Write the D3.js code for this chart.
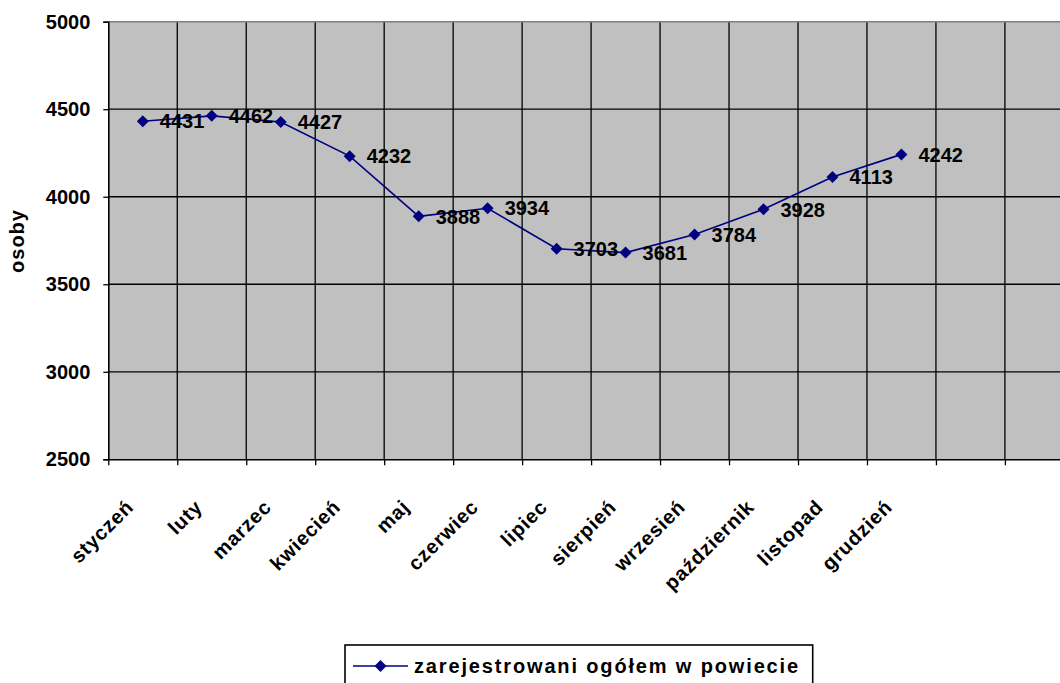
<!DOCTYPE html>
<html>
<head>
<meta charset="utf-8">
<script src="https://cdn.jsdelivr.net/npm/d3@7"></script>
<style>
  html, body { margin: 0; padding: 0; background: #ffffff; }
  svg { display: block; }
  text { font-family: "Liberation Sans", Arial, sans-serif; font-weight: bold; fill: #000; }
</style>
</head>
<body>
<script>
// data
var categories = ["styczeń", "luty", "marzec", "kwiecień", "maj", "czerwiec",
  "lipiec", "sierpień", "wrzesień", "październik", "listopad", "grudzień"];
var values = [4431, 4462, 4427, 4232, 3888, 3934, 3703, 3681, 3784, 3928, 4113, 4242];
var yTicks = [2500, 3000, 3500, 4000, 4500, 5000];
var emptySlots = 2; // the category axis has two empty slots on the right
var seriesName = "zarejestrowani ogółem w powiecie";
var yTitle = "osoby";

var svgWidth = 1060;
var svgHeight = 683;

// plot area (runs past the right edge of the picture, like the original)
var plotLeft = 108.3, plotTop = 21.7, plotBottom = 459.3;
var bandStep = 68.97;
var slotCount = categories.length + emptySlots;
var plotRight = plotLeft + slotCount * bandStep;

var svg = d3.select("body").append("svg")
  .attr("width", svgWidth)
  .attr("height", svgHeight);

var xScale = d3.scaleBand()
  .domain(d3.range(slotCount))
  .range([plotLeft, plotRight])
  .padding(0);

var yScale = d3.scaleLinear()
  .domain([2500, 5000])
  .range([plotBottom, plotTop]);

// background
svg.append("rect")
  .attr("x", plotLeft).attr("y", plotTop)
  .attr("width", plotRight - plotLeft).attr("height", plotBottom - plotTop)
  .attr("fill", "#c0c0c0");

// horizontal gridlines
svg.append("g").selectAll("line")
  .data(yTicks.filter(function(d) { return d > 2500 && d < 5000; }))
  .enter().append("line")
  .attr("x1", plotLeft).attr("x2", plotRight)
  .attr("y1", function(d) { return yScale(d); })
  .attr("y2", function(d) { return yScale(d); })
  .attr("stroke", "#000").attr("stroke-width", 1.3);

// vertical gridlines at category boundaries
svg.append("g").selectAll("line")
  .data(d3.range(1, slotCount))
  .enter().append("line")
  .attr("x1", function(d) { return xScale(d); })
  .attr("x2", function(d) { return xScale(d); })
  .attr("y1", plotTop).attr("y2", plotBottom)
  .attr("stroke", "#000").attr("stroke-width", 1.3);

// top border in gray
svg.append("line")
  .attr("x1", plotLeft).attr("x2", plotRight)
  .attr("y1", plotTop).attr("y2", plotTop)
  .attr("stroke", "#808080").attr("stroke-width", 1.6);

// y axis
var leftAxis = d3.axisLeft(yScale)
  .tickValues(yTicks)
  .tickSize(5)
  .tickPadding(13)
  .tickFormat(d3.format("d"));

var yAxisG = svg.append("g")
  .attr("transform", "translate(" + plotLeft + ",0)")
  .call(leftAxis);
yAxisG.select(".domain").attr("stroke", "#000").attr("stroke-width", 1.6);
yAxisG.selectAll(".tick line").attr("stroke", "#000").attr("stroke-width", 1.3);
yAxisG.selectAll("text")
  .style("font-size", "20px")
  .style("font-family", "'Liberation Sans', Arial, sans-serif")
  .style("font-weight", "bold");

// x axis: tick marks at category boundaries
var boundary = d3.scaleLinear().domain([0, slotCount]).range([plotLeft, plotRight]);
var tickAxis = d3.axisBottom(boundary)
  .tickValues(d3.range(0, slotCount + 1))
  .tickSize(6)
  .tickSizeOuter(0)
  .tickFormat("");
var xTickG = svg.append("g")
  .attr("transform", "translate(0," + plotBottom + ")")
  .call(tickAxis);
xTickG.select(".domain").attr("stroke", "#000").attr("stroke-width", 1.6);
xTickG.selectAll(".tick line").attr("stroke", "#000").attr("stroke-width", 1.3);

// x axis: rotated category labels at band centres
var bottomAxis = d3.axisBottom(xScale)
  .tickSize(0)
  .tickFormat(function(i) { return categories[i] || ""; });
var xLabelG = svg.append("g")
  .attr("transform", "translate(0," + plotBottom + ")")
  .call(bottomAxis);
xLabelG.select(".domain").remove();
xLabelG.selectAll("text")
  .attr("y", 0)
  .attr("dy", 0)
  .attr("transform", "translate(-8,49) rotate(-45)")
  .attr("text-anchor", "end")
  .style("font-size", "20px")
  .style("letter-spacing", "0.8px")
  .style("font-family", "'Liberation Sans', Arial, sans-serif")
  .style("font-weight", "bold");

// y axis title
svg.append("text")
  .attr("transform", "translate(24,241) rotate(-90)")
  .attr("text-anchor", "middle")
  .style("font-size", "20px")
  .style("letter-spacing", "1px")
  .text(yTitle);

// series line
var line = d3.line()
  .x(function(d, i) { return xScale(i) + xScale.bandwidth() / 2; })
  .y(function(d) { return yScale(d); });

svg.append("path")
  .datum(values)
  .attr("d", line)
  .attr("fill", "none")
  .attr("stroke", "#000080")
  .attr("stroke-width", 1.6);

var diamond = d3.symbol().type(d3.symbolSquare).size(72);

svg.append("g").selectAll("path")
  .data(values)
  .enter().append("path")
  .attr("d", diamond)
  .attr("transform", function(d, i) {
    return "translate(" + (xScale(i) + xScale.bandwidth() / 2) + "," + yScale(d) + ") rotate(45)";
  })
  .attr("fill", "#000080");

// data labels
svg.append("g").selectAll("text")
  .data(values)
  .enter().append("text")
  .attr("x", function(d, i) { return xScale(i) + xScale.bandwidth() / 2 + 17; })
  .attr("y", function(d) { return yScale(d); })
  .attr("dy", "0.36em")
  .style("font-size", "20px")
  .text(function(d) { return d; });

// legend
var legend = svg.append("g");
legend.append("rect")
  .attr("x", 345).attr("y", 645)
  .attr("width", 467.7).attr("height", 50)
  .attr("fill", "#fff")
  .attr("stroke", "#000").attr("stroke-width", 1.6);
legend.append("line")
  .attr("x1", 353).attr("x2", 408)
  .attr("y1", 666).attr("y2", 666)
  .attr("stroke", "#000080").attr("stroke-width", 1.6);
legend.append("path")
  .attr("d", diamond)
  .attr("transform", "translate(380.5,666) rotate(45)")
  .attr("fill", "#000080");
legend.append("text")
  .attr("x", 414).attr("y", 673)
  .style("font-size", "20px")
  .style("letter-spacing", "1.85px")
  .text(seriesName);
</script>
</body>
</html>
